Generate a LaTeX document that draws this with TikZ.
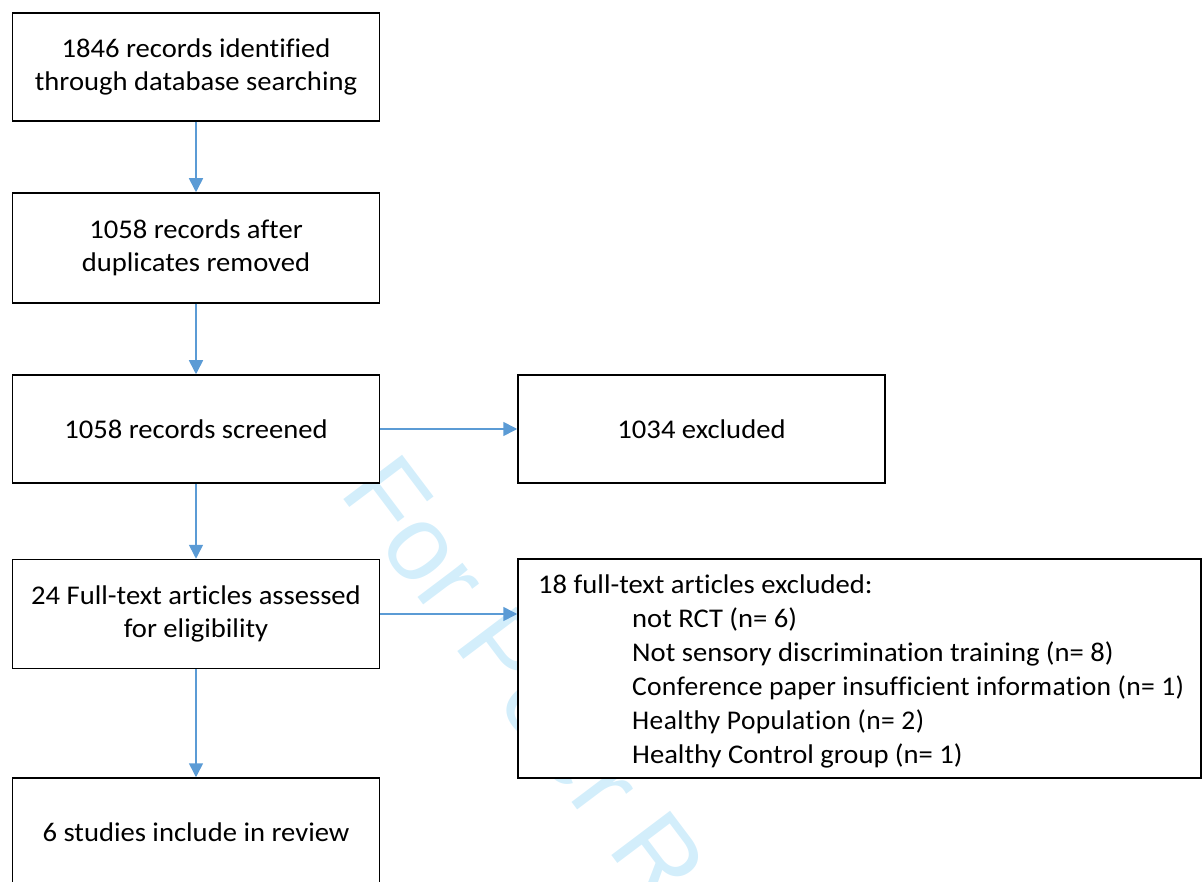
\documentclass[tikz,border=0pt]{standalone}
\usepackage{fontspec}
\usepackage{graphicx}
\setmainfont{Carlito}[FakeStretch=1.06,Ligatures=NoCommon]
\newfontfamily\wmfont{Liberation Sans}
\usetikzlibrary{arrows.meta,calc}
\definecolor{arrowblue}{RGB}{91,155,213}
\definecolor{wmblue}{RGB}{211,238,251}
\begin{document}
\begin{tikzpicture}[x=1pt,y=-1pt,
  box/.style={draw=black,line width=1.5pt,fill=white,minimum width=367pt,inner sep=0pt,align=center,font=\fontsize{27}{33.3}\selectfont},
  arr/.style={draw=arrowblue,line width=1.6pt,-{Triangle[length=14pt,width=14pt]}}]
\useasboundingbox (0,0) rectangle (1202,882);
% watermark
\node[text=wmblue, font=\wmfont\fontsize{107}{107}\selectfont, rotate=-53, anchor=base west, inner sep=0pt] (wm) at (338,492) {For Peer Review};
% boxes
\node[box,minimum height=108pt] (b1) at (196,67) {1846 records identified\\through database searching};
\node[box,minimum height=110pt] (b2) at (196,248) {1058 records after\\duplicates removed};
\node[box,minimum height=108pt] (b3) at (196,429) {1058 records screened};
\node[box,minimum height=109pt] (b4) at (196,614) {24 Full-text articles assessed\\for eligibility};
\node[box,minimum height=108pt] (b5) at (196,832) {6 studies include in review};
\node[box,minimum height=108pt] (b6) at (701.5,429) {1034 excluded};
\node[box,minimum width=683pt,minimum height=219pt] (b7) at (859.5,668.5) {};
\node[anchor=west,inner sep=0pt,align=left,font=\fontsize{27}{34}\selectfont] (b7t) at (538,671)
  {18 full-text articles excluded:\\
   \hspace*{94pt}not RCT (n= 6)\\
   \hspace*{94pt}Not sensory discrimination training (n= 8)\\
   \hspace*{94pt}\resizebox{552pt}{\height}{\addfontfeature{LetterSpace=1.0}Conference paper insufficient information (n= 1)}\\
   \hspace*{94pt}\resizebox{292pt}{\height}{\addfontfeature{LetterSpace=1.5}Healthy Population (n= 2)}\\
   \hspace*{94pt}Healthy Control group (n= 1)};
% arrows
\draw[arr] (b1.south) -- (b2.north);
\draw[arr] (b2.south) -- (b3.north);
\draw[arr] (b3.south) -- (b4.north);
\draw[arr] (b4.south) -- (b5.north);
\draw[arr] (b3.east) -- (b6.west);
\draw[arr] (b4.east) -- (b4.east -| b7.west);
\end{tikzpicture}
\end{document}
